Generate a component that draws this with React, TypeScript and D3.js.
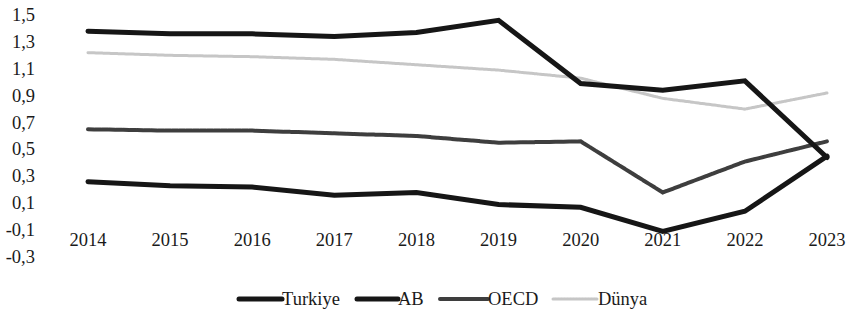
import React from "react";
import * as d3 from "d3";

const years = [2014, 2015, 2016, 2017, 2018, 2019, 2020, 2021, 2022, 2023];
const turkiye = [0.26, 0.23, 0.22, 0.16, 0.18, 0.09, 0.07, -0.11, 0.04, 0.45];
const ab = [1.38, 1.36, 1.36, 1.34, 1.37, 1.46, 0.99, 0.94, 1.01, 0.44];
const oecd = [0.65, 0.64, 0.64, 0.62, 0.6, 0.55, 0.56, 0.18, 0.41, 0.56];
const dunya = [1.22, 1.2, 1.19, 1.17, 1.13, 1.09, 1.03, 0.88, 0.8, 0.92];
const yTicks = [1.5, 1.3, 1.1, 0.9, 0.7, 0.5, 0.3, 0.1, -0.1, -0.3];
const seriesNames = ["Turkiye", "AB", "OECD", "Dünya"];

const styles = [
  { color: "#161616", width: 5, dash: "none" },
  { color: "#161616", width: 5, dash: "none" },
  { color: "#3e3e3e", width: 4, dash: "6 1" },
  { color: "#c6c6c6", width: 3, dash: "2 1" },
];

export default function App() {
  const W = 850;
  const H = 314;
  const x = d3.scaleLinear().domain([2014, 2023]).range([88, 827]);
  const y = d3.scaleLinear().domain([-0.3, 1.5]).range([257, 15]);
  const fmt = (v: number) => v.toFixed(1).replace(".", ",");
  const line = d3
    .line<number>()
    .x((_, i) => x(years[i]))
    .y((d) => y(d));
  const data = [turkiye, ab, oecd, dunya];
  const legendX = [239, 357, 440, 553];
  const legendLen = [43, 41, 48, 45];
  const font = "'Liberation Serif', 'Times New Roman', serif";
  return (
    <svg width={W} height={H} style={{ position: "absolute", left: 0, top: 0 }}>
      <rect width={W} height={H} fill="#fff" />
      {yTicks.map((t) => (
        <text
          key={t}
          x={35}
          y={y(t)}
          textAnchor="end"
          dominantBaseline="central"
          fontFamily={font}
          fontSize={18.5}
          fill="#1a1a1a"
        >
          {fmt(t)}
        </text>
      ))}
      {years.map((yr) => (
        <text
          key={yr}
          x={x(yr)}
          y={246}
          textAnchor="middle"
          fontFamily={font}
          fontSize={18.5}
          fill="#1a1a1a"
        >
          {yr}
        </text>
      ))}
      {[3, 2, 1, 0].map((i) => (
        <path
          key={i}
          d={line(data[i]) || ""}
          fill="none"
          stroke={styles[i].color}
          strokeWidth={styles[i].width}
          strokeDasharray={styles[i].dash}
          strokeLinejoin="miter"
          strokeLinecap="round"
        />
      ))}
      {seriesNames.map((n, i) => (
        <g key={n}>
          <line
            x1={legendX[i]}
            x2={legendX[i] + legendLen[i]}
            y1={299}
            y2={299}
            stroke={styles[i].color}
            strokeWidth={styles[i].width}
            strokeDasharray={styles[i].dash}
            strokeLinecap="round"
          />
          <text
            x={legendX[i] + legendLen[i]}
            y={305}
            fontFamily={font}
            fontSize={18.5}
            fill="#1a1a1a"
          >
            {n}
          </text>
        </g>
      ))}
    </svg>
  );
}
